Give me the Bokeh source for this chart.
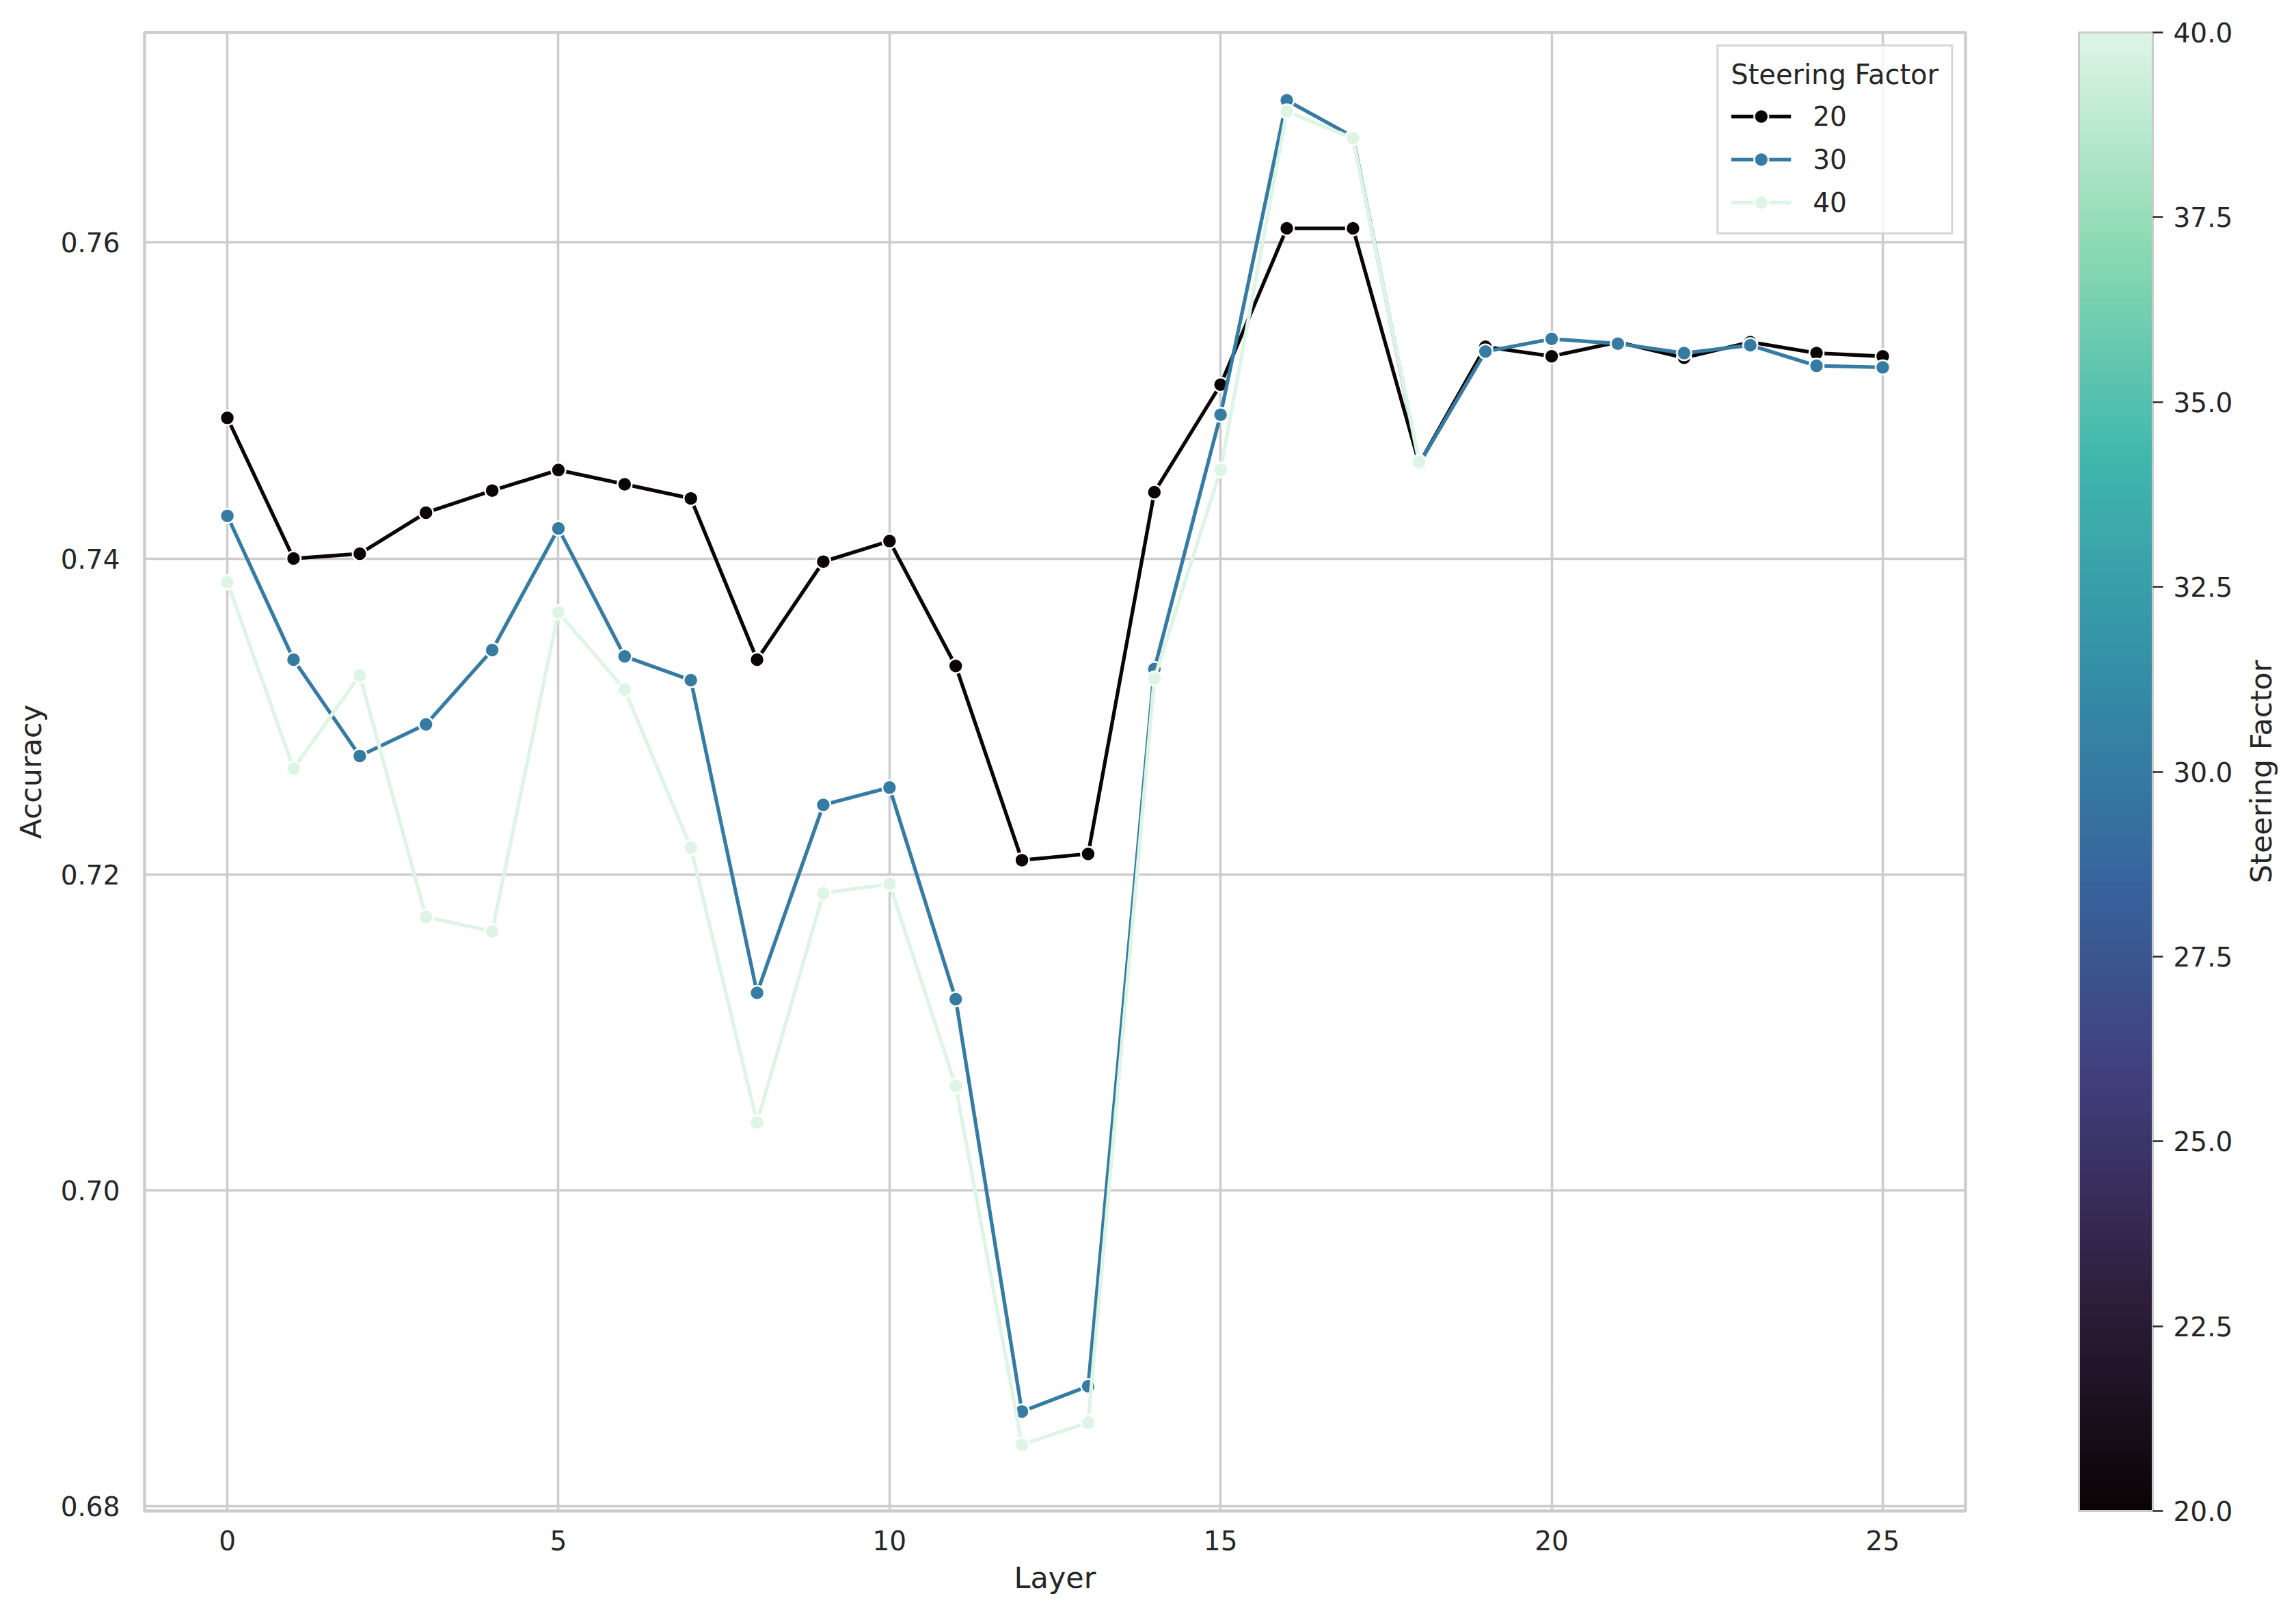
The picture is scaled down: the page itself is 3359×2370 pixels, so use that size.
import math
from bokeh.plotting import figure
from bokeh.layouts import row
from bokeh.models import (Range1d, FixedTicker, NumeralTickFormatter, ColorBar,
                          LinearColorMapper, Legend, LegendItem)
from bokeh.embed import file_html
from bokeh.resources import INLINE

# ---------------- data ----------------
layers = list(range(26))
layers_40 = list(range(19))
acc_20 = [0.7489, 0.7400, 0.7403, 0.7429, 0.7443, 0.7456, 0.7447, 0.7438, 0.7336,
          0.7398, 0.7411, 0.7332, 0.7209, 0.7213, 0.7442, 0.7510, 0.7609, 0.7609,
          0.7460, 0.7534, 0.7528, 0.7537, 0.7527, 0.7537, 0.7530, 0.7528]
acc_30 = [0.7427, 0.7336, 0.7275, 0.7295, 0.7342, 0.7419, 0.7338, 0.7323, 0.7125,
          0.7244, 0.7255, 0.7121, 0.6860, 0.6876, 0.7330, 0.7491, 0.7690, 0.7667,
          0.7460, 0.7531, 0.7539, 0.7536, 0.7530, 0.7535, 0.7522, 0.7521]
acc_40 = [0.7385, 0.7267, 0.7326, 0.7173, 0.7164, 0.7366, 0.7317, 0.7217, 0.7043,
          0.7188, 0.7194, 0.7066, 0.6839, 0.6853, 0.7324, 0.7456, 0.7683, 0.7666,
          0.7461]
steering_factors = [20, 30, 40]
x_ticks = [0, 5, 10, 15, 20, 25]
y_ticks = [0.68, 0.70, 0.72, 0.74, 0.76]
cbar_ticks = [20.0, 22.5, 25.0, 27.5, 30.0, 32.5, 35.0, 37.5, 40.0]

# ---------------- mako colormap ----------------
mako_anchors = [(0.0, "#0B0405"), (0.143, "#2E1E3B"), (0.286, "#413D7B"),
                (0.429, "#37659E"), (0.5, "#357BA2"), (0.571, "#348FA7"),
                (0.714, "#40B7AD"), (0.857, "#8BDAB2"), (1.0, "#DEF5E5")]

def _rgb(h):
    return tuple(int(h[i:i + 2], 16) for i in (1, 3, 5))

def mako(t):
    for (t0, c0), (t1, c1) in zip(mako_anchors[:-1], mako_anchors[1:]):
        if t <= t1:
            f = 0 if t1 == t0 else (t - t0) / (t1 - t0)
            a, b = _rgb(c0), _rgb(c1)
            return "#%02x%02x%02x" % tuple(round(a[k] + (b[k] - a[k]) * f) for k in range(3))
    return mako_anchors[-1][1]

palette = [mako(i / 255) for i in range(256)]
series_colors = [mako((s - 20) / 20) for s in steering_factors]

FONT = "DejaVu Sans"
TXT = "#262626"
GRID = "#cccccc"

p = figure(frame_width=2664, frame_height=2163,
           min_border_left=211, min_border_right=404,
           min_border_top=47, min_border_bottom=152,
           x_range=Range1d(-1.25, 26.25), y_range=Range1d(0.6797, 0.7733),
           output_backend="svg", toolbar_location=None,
           background_fill_color="white", border_fill_color="white")

p.outline_line_color = GRID
p.outline_line_width = 4.4

p.xaxis.ticker = FixedTicker(ticks=x_ticks)
p.yaxis.ticker = FixedTicker(ticks=y_ticks)
p.yaxis.formatter = NumeralTickFormatter(format="0.00")
for ax in (p.xaxis, p.yaxis):
    ax.axis_line_color = None
    ax.major_tick_line_color = None
    ax.minor_tick_line_color = None
    ax.major_label_text_font = FONT
    ax.major_label_text_font_size = "39px"
    ax.major_label_text_color = TXT
    ax.axis_label_text_font = FONT
    ax.axis_label_text_font_size = "43px"
    ax.axis_label_text_color = TXT
    ax.axis_label_text_font_style = "normal"
p.xaxis.axis_label = "Layer"
p.yaxis.axis_label = "Accuracy"
p.xaxis.major_label_standoff = 22
p.yaxis.major_label_standoff = 30
p.xaxis.axis_label_standoff = 12
p.yaxis.axis_label_standoff = 16

p.grid.grid_line_color = GRID
p.grid.grid_line_width = 3.5

series = [(layers, acc_20), (layers, acc_30), (layers_40, acc_40)]
items = []
for (xs, ys), sf, col in zip(series, steering_factors, series_colors):
    ln = p.line(xs, ys, line_color=col, line_width=5.3)
    sc = p.scatter(xs, ys, size=21, fill_color=col, line_color="white", line_width=2.5)
    items.append(LegendItem(label=str(sf), renderers=[ln, sc]))

legend = Legend(items=items, title="Steering Factor", location="top_right",
                margin=18, padding=18, spacing=11,
                glyph_width=88, glyph_height=52, label_height=52, label_standoff=32,
                title_standoff=12,
                label_text_font=FONT, label_text_font_size="39px", label_text_color=TXT,
                title_text_font=FONT, title_text_font_size="40px", title_text_color=TXT,
                title_text_font_style="normal",
                border_line_color=GRID, border_line_width=3, border_line_alpha=0.8,
                background_fill_color="white", background_fill_alpha=0.8)
p.add_layout(legend)

mapper = LinearColorMapper(palette=palette, low=20, high=40)
cbar = ColorBar(color_mapper=mapper, location=(2830, 0), orientation="vertical",
                width=108, height=2163, margin=0, padding=0,
                ticker=FixedTicker(ticks=cbar_ticks),
                formatter=NumeralTickFormatter(format="0.0"),
                major_tick_in=0, major_tick_out=15,
                major_tick_line_color=TXT, major_tick_line_width=2.5,
                minor_tick_line_color=None,
                label_standoff=15,
                major_label_text_font=FONT, major_label_text_font_size="39px",
                major_label_text_color=TXT,
                bar_line_color=GRID, bar_line_width=3,
                border_line_color=None, background_fill_color=None)
p.add_layout(cbar)

# narrow companion figure that only carries the colour-bar title
# (a left-side axis label: centred and reading bottom-to-top)
t = figure(frame_width=1, frame_height=2163,
           min_border_left=56, min_border_right=0,
           min_border_top=47, min_border_bottom=152,
           x_range=Range1d(0, 1), y_range=Range1d(20, 40),
           x_axis_location=None, y_axis_location="left",
           output_backend="svg", toolbar_location=None,
           background_fill_color="white", border_fill_color="white")
t.outline_line_color = None
t.grid.visible = False
t.yaxis.ticker = FixedTicker(ticks=[])
t.yaxis.axis_line_color = None
t.yaxis.major_tick_line_color = None
t.yaxis.minor_tick_line_color = None
t.yaxis.major_label_text_font_size = "0px"
t.yaxis.axis_label = "Steering Factor"
t.yaxis.axis_label_standoff = 4
t.yaxis.axis_label_text_font = FONT
t.yaxis.axis_label_text_font_size = "43px"
t.yaxis.axis_label_text_color = TXT
t.yaxis.axis_label_text_font_style = "normal"

layout = row(p, t, spacing=0)

open("out.html", "w").write(file_html(layout, INLINE))
